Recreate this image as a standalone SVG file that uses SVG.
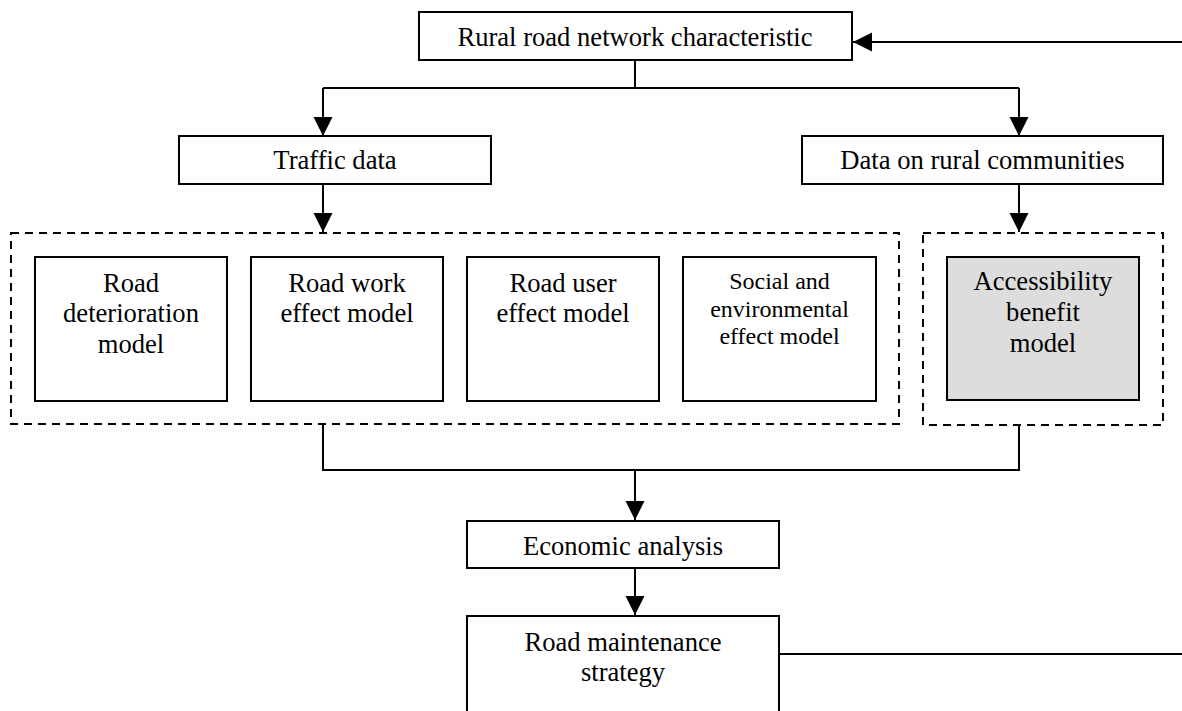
<svg xmlns="http://www.w3.org/2000/svg" width="1182" height="711" viewBox="0 0 1182 711">
<defs>
<marker id="ah" markerUnits="userSpaceOnUse" markerWidth="20" markerHeight="20" refX="19" refY="9.5" orient="auto">
<path d="M0,0 L19,9.5 L0,19 z" fill="#000"/>
</marker>
<style>
.box{fill:#fff;stroke:#000;stroke-width:2}
.grey{fill:#dddddd;stroke:#000;stroke-width:2}
.dash{fill:none;stroke:#000;stroke-width:2;stroke-dasharray:8,6}
.t{font-family:"Liberation Serif","Times New Roman",serif;font-size:26.6px;fill:#000;text-anchor:middle}
.s{font-size:24px}
.c{fill:none;stroke:#000;stroke-width:2}
</style>
</defs>
<rect width="1182" height="711" fill="#fff"/>
<g id="group-models"><rect class="dash" x="11" y="233" width="888" height="191"/></g>
<g id="group-access"><rect class="dash" x="923" y="233" width="240" height="192"/></g>
<g id="n-rural"><rect class="box" x="419" y="12" width="433" height="48"/><text class="t" x="635" y="46">Rural road network characteristic</text></g>
<g id="n-traffic"><rect class="box" x="179" y="136" width="312" height="48"/><text class="t" x="335" y="169">Traffic data</text></g>
<g id="n-communities"><rect class="box" x="802" y="136" width="361" height="48"/><text class="t" x="982.5" y="169">Data on rural communities</text></g>
<g id="n-deterioration"><rect class="box" x="35" y="257" width="192" height="144"/><text class="t" x="131" y="292">Road</text><text class="t" x="131" y="322">deterioration</text><text class="t" x="131" y="353">model</text></g>
<g id="n-roadwork"><rect class="box" x="251" y="257" width="192" height="144"/><text class="t" x="347" y="292">Road work</text><text class="t" x="347" y="322">effect model</text></g>
<g id="n-roaduser"><rect class="box" x="467" y="257" width="192" height="144"/><text class="t" x="563" y="292">Road user</text><text class="t" x="563" y="322">effect model</text></g>
<g id="n-social"><rect class="box" x="683" y="257" width="193" height="144"/><text class="t s" x="779.5" y="289">Social and</text><text class="t s" x="779.5" y="317">environmental</text><text class="t s" x="779.5" y="344">effect model</text></g>
<g id="n-access"><rect class="grey" x="947" y="257" width="192" height="143"/><text class="t" x="1043" y="290">Accessibility</text><text class="t" x="1043" y="321">benefit</text><text class="t" x="1043" y="352">model</text></g>
<g id="n-economic"><rect class="box" x="467" y="521" width="312" height="47"/><text class="t" x="623" y="555">Economic analysis</text></g>
<g id="n-strategy"><rect class="box" x="467" y="616" width="312" height="110"/><text class="t" x="623" y="651">Road maintenance</text><text class="t" x="623" y="681">strategy</text></g>
<g id="connectors">
<path class="c" d="M1182,42 L853,42" marker-end="url(#ah)"/>
<path class="c" d="M635,60 L635,88 M323,88 L1019,88"/>
<path class="c" d="M323,88 L323,136" marker-end="url(#ah)"/>
<path class="c" d="M1019,88 L1019,136" marker-end="url(#ah)"/>
<path class="c" d="M323,184 L323,232" marker-end="url(#ah)"/>
<path class="c" d="M1019,184 L1019,232" marker-end="url(#ah)"/>
<path class="c" d="M323,424 L323,470 L1019,470 L1019,425"/>
<path class="c" d="M635,470 L635,520" marker-end="url(#ah)"/>
<path class="c" d="M635,568 L635,615" marker-end="url(#ah)"/>
<path class="c" d="M779,654 L1182,654"/>
</g>
</svg>
